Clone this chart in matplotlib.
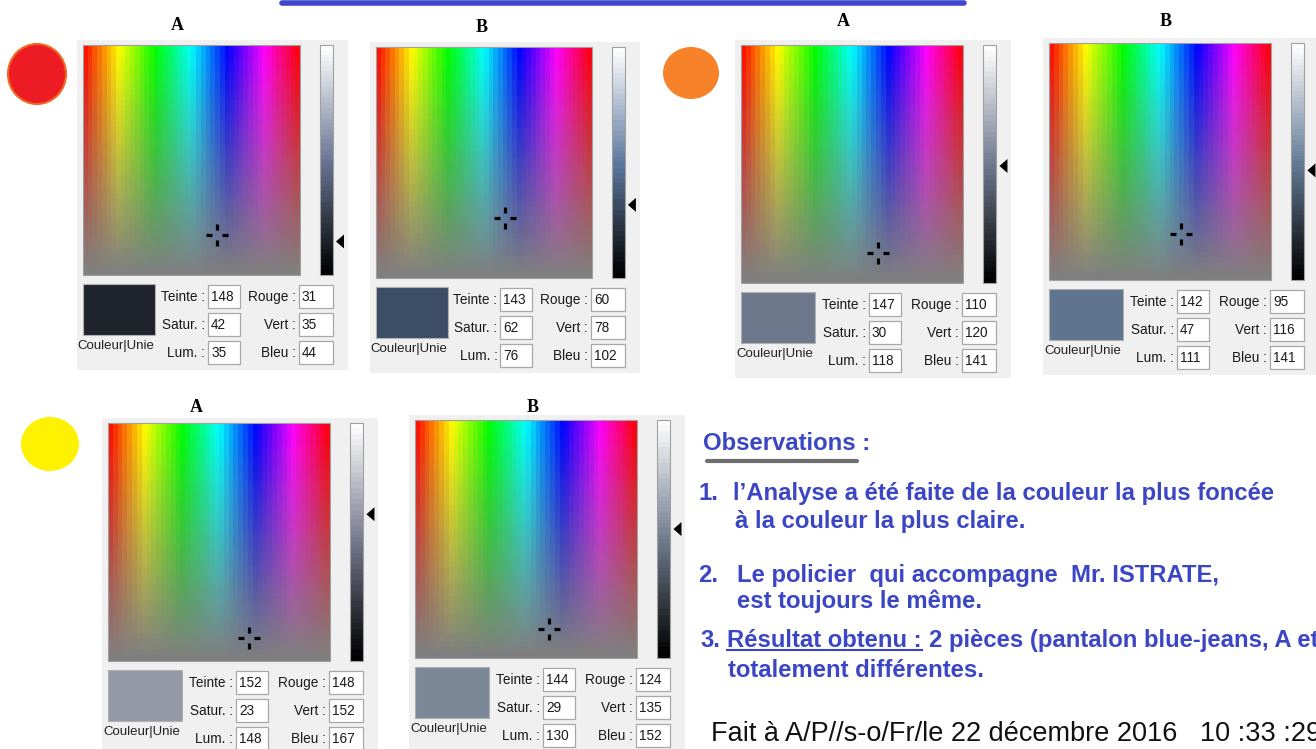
import colorsys

import matplotlib.pyplot as plt
import numpy as np
from matplotlib.patches import Ellipse, Polygon, Rectangle

# valeurs lues dans les six boites "Couleur" (A / B pour chaque pastille)
panel_titles = ["A", "B", "A", "B", "A", "B"]
teinte = [148, 143, 147, 142, 152, 144]
satur = [42, 62, 30, 47, 23, 29]
lum = [35, 76, 118, 111, 148, 130]
rouge = [31, 60, 110, 95, 148, 124]
vert = [35, 78, 120, 116, 152, 135]
bleu = [44, 102, 141, 141, 167, 152]

obs_title = "Observations :"
obs_items = [
    ("1.", ["l\u2019Analyse a été faite de la couleur la plus foncée",
            "à la couleur la plus claire."]),
    ("2.", ["Le policier  qui accompagne  Mr. ISTRATE,",
            "est toujours le même."]),
]
obs_result_head = "Résultat obtenu :"
obs_result_tail = "2 pièces (pantalon blue-jeans, A et"
obs_result_line2 = "totalement différentes."
footer = "Fait à A/P//s-o/Fr/le 22 décembre 2016   10 :33 :29"

# geometrie (pixels) : zone spectre de chaque panneau
spec_boxes = [(83, 45, 217, 230), (376, 47, 216, 231), (741, 45, 222, 238),
              (1049, 43, 222, 237), (108, 423, 222, 238), (415, 420, 222, 238)]
title_xy = [(177, 26), (482, 28), (843, 22), (1166, 21), (196, 408), (533, 408)]

BG = "#f0f0f0"
BLUE = "#3b46c4"
SANS = ["Liberation Sans", "DejaVu Sans"]


def hls_grid(h_vals, l_vals, s_vals):
    out = np.zeros((len(l_vals), len(h_vals), 3))
    for i in range(len(l_vals)):
        for j in range(len(h_vals)):
            out[i, j] = colorsys.hls_to_rgb(h_vals[j], l_vals[i], s_vals[i])
    return out


def spectrum_image(n_hue=46, n_sat=42):
    hues = (np.arange(n_hue) + 0.5) / n_hue
    sats = 1 - np.arange(n_sat) / (n_sat - 1)
    return hls_grid(hues, np.full(n_sat, 0.5), sats)


def lum_bar_image(h, s, n=44):
    ls = 1 - np.arange(n) / (n - 1)
    return hls_grid([h / 240.0], ls, np.full(n, s / 240.0))


def draw_panel(ax, k):
    x0, y0, w, h = spec_boxes[k]
    x1, y1 = x0 + w, y0 + h
    sc = w / 217.0
    bar_x0 = x1 + 20 * sc
    bar_x1 = bar_x0 + 13

    ax.add_patch(Rectangle((x0 - 6, y0 - 5), bar_x1 + 15 - (x0 - 6), h + 100,
                           fc=BG, ec="none", zorder=1))

    ax.imshow(spectrum_image(), extent=(x0, x1, y1, y0), aspect="auto",
              interpolation="nearest", zorder=2)
    ax.add_patch(Rectangle((x0, y0), w, h, fc="none", ec="#a0a0a0", lw=0.8, zorder=3))

    ax.imshow(lum_bar_image(teinte[k], satur[k]), extent=(bar_x0, bar_x1, y1, y0),
              aspect="auto", interpolation="nearest", zorder=2)
    ax.add_patch(Rectangle((bar_x0, y0), 13, h, fc="none", ec="#a0a0a0", lw=0.8, zorder=3))

    # curseur teinte / saturation
    cx = x0 + teinte[k] / 239.0 * w
    cy = y0 + (1 - satur[k] / 240.0) * h
    for dx, dy in [(1, 0), (-1, 0), (0, 1), (0, -1)]:
        ax.plot([cx + dx * 5, cx + dx * 11], [cy + dy * 5, cy + dy * 11],
                color="black", lw=2.3, solid_capstyle="butt", zorder=4)

    # fleche de luminosite
    ay = y1 - lum[k] / 240.0 * h
    tip = bar_x1 + 3
    ax.add_patch(Polygon([(tip, ay), (tip + 8, ay - 7), (tip + 8, ay + 7)],
                         closed=True, fc="black", ec="none", zorder=4))

    # echantillon
    sw_y = y1 + 9
    ax.add_patch(Rectangle((x0, sw_y), 72 * sc, 51, ec="#b0b0b0", lw=0.8,
                           fc=np.array([rouge[k], vert[k], bleu[k]]) / 255.0, zorder=3))
    ax.text(x0 + 33 * sc, y1 + 71, "Couleur|Unie", ha="center", va="center",
            fontsize=9.5, family=SANS, color="#222222", zorder=5)

    left_box = x0 + 125 * sc
    right_box = x0 + 216 * sc
    left = [("Teinte :", teinte[k]), ("Satur. :", satur[k]), ("Lum. :", lum[k])]
    right = [("Rouge :", rouge[k]), ("Vert :", vert[k]), ("Bleu :", bleu[k])]
    for r in range(3):
        top = y1 + 10 + 28 * r
        for bx, bw, (lab, val) in [(left_box, 32, left[r]), (right_box, 34, right[r])]:
            ax.add_patch(Rectangle((bx, top), bw, 23, fc="white", ec="#a8a8a8",
                                   lw=0.9, zorder=3))
            ax.text(bx + 3, top + 12, str(val), ha="left", va="center",
                    fontsize=9.8, family=SANS, color="#1a1a1a", zorder=5)
            ax.text(bx - 3, top + 12, lab, ha="right", va="center",
                    fontsize=9.8, family=SANS, color="#1a1a1a", zorder=5)

    tx, ty = title_xy[k]
    ax.text(tx, ty, panel_titles[k], ha="center", va="center", fontsize=13,
            fontweight="bold", family=["Liberation Serif", "DejaVu Serif"], zorder=5)


def main():
    fig = plt.figure(figsize=(13.16, 7.49), dpi=100)
    ax = fig.add_axes([0, 0, 1, 1])
    ax.set_xlim(0, 1316)
    ax.set_ylim(749, 0)
    ax.axis("off")

    ax.plot([282, 964], [3, 3], color="#3f48cc", lw=4, solid_capstyle="round", zorder=5)

    for k in range(len(teinte)):
        draw_panel(ax, k)

    # pastilles de couleur
    ax.add_patch(Ellipse((37, 74), 58, 60, fc="#ed1c24", ec="#f26522", lw=1.5, zorder=3))
    ax.add_patch(Ellipse((691, 73), 56, 52, fc="#f7822a", ec="none", zorder=3))
    ax.add_patch(Ellipse((50, 444), 58, 54, fc="#fff200", ec="none", zorder=3))

    # observations
    obs_kw = dict(fontsize=17.2, fontweight="bold", family=SANS, color=BLUE,
                  va="baseline", ha="left", zorder=5)
    ax.text(703, 450, obs_title, **obs_kw)
    ax.plot([707, 857], [461, 461], color="#6e6e6e", lw=3, solid_capstyle="round")

    baselines = [(500, 528), (582, 608)]
    text_x = [(733, 735), (737, 737)]
    for (num, lines), (b1, b2), (xa, xb) in zip(obs_items, baselines, text_x):
        ax.text(698, b1, num, **obs_kw)
        ax.text(xa, b1, lines[0], **obs_kw)
        ax.text(xb, b2, lines[1], **obs_kw)

    ax.text(700, 647, "3.", **obs_kw)
    head = ax.text(727, 647, obs_result_head, **obs_kw)
    renderer = fig.canvas.get_renderer()
    bb = head.get_window_extent(renderer).transformed(ax.transData.inverted())
    ax.plot([727, bb.x1], [650, 650], color=BLUE, lw=1.5)
    ax.text(bb.x1 + 7, 647, obs_result_tail, **obs_kw)
    ax.text(728, 677, obs_result_line2, **obs_kw)

    ax.text(711, 741, footer, fontsize=19.5, family=SANS, color="#111111",
            va="baseline", ha="left", zorder=5)

    fig.savefig("out.png", dpi=100)
    plt.close(fig)


if __name__ == "__main__":
    main()
